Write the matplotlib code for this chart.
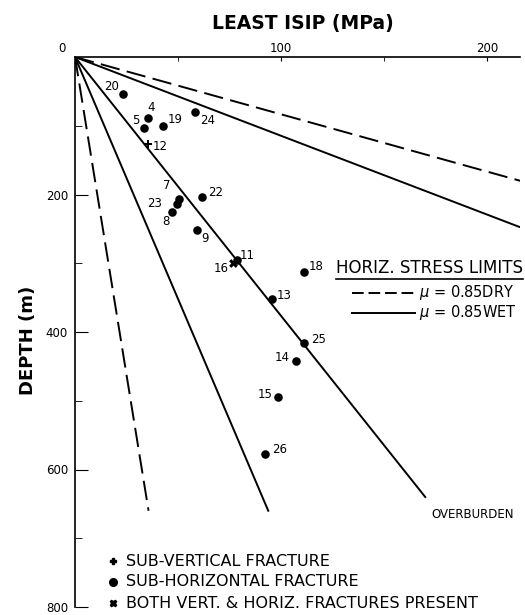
import matplotlib.pyplot as plt
from matplotlib.lines import Line2D
from matplotlib.ticker import FixedLocator

# --- ISIP test results: least ISIP (MPa) vs depth (m) ---
test_ids = ["20", "4", "5", "19", "24", "12", "7", "23", "22", "8",
            "9", "11", "16", "18", "13", "25", "14", "15", "26"]
isip = [23.2, 35.3, 33.5, 42.6, 58.3, 35.3, 50.7, 49.5, 61.5, 46.9,
        59.1, 78.5, 76.6, 111.2, 95.8, 111.1, 107.1, 98.4, 92.2]
depth = [53.8, 88.5, 103.9, 100.6, 80.4, 127.0, 206.9, 213.6, 203.9, 225.1,
         251.1, 295.4, 300.1, 312.1, 351.7, 416.3, 442.0, 494.9, 576.8]
# v = sub-vertical, h = sub-horizontal, b = both present
fracture = ["h", "h", "h", "h", "h", "v", "h", "h", "h", "h",
            "h", "h", "b", "h", "h", "h", "h", "h", "h"]

# --- stress limit lines (end points from the origin) ---
dry_low_isip, dry_low_depth = [0, 35.7], [0, 660]
wet_low_isip, wet_low_depth = [0, 93.8], [0, 660]
dry_high_isip, dry_high_depth = [0, 240], [0, 200]
wet_high_isip, wet_high_depth = [0, 240], [0, 275]
overburden_isip, overburden_depth = [0, 170], [0, 640]

# label offsets in pixels (dx right, dy down)
label_off = {"20": (-11, -7), "4": (3, -10), "5": (-8, -8), "19": (12, -7),
             "24": (13, 8), "12": (12, 2), "7": (-13, -14), "23": (-22, 0),
             "22": (14, -5), "8": (-6, 10), "9": (8, 9), "11": (10, -5),
             "16": (-12, 5), "18": (12, -5), "13": (12, -3), "25": (15, -4),
             "14": (-13, -3), "15": (-13, -3), "26": (15, -4)}

W, H = 525, 615
fig = plt.figure(figsize=(W / 100, H / 100), dpi=100)
ax = fig.add_axes([75 / W, 8 / H, 445 / W, 550 / H])

DASH = (10, 3.8)
LW = 1.4
ax.plot(dry_low_isip, dry_low_depth, color="k", lw=LW, dashes=DASH)
ax.plot(dry_high_isip, dry_high_depth, color="k", lw=LW, dashes=DASH)
ax.plot(wet_low_isip, wet_low_depth, color="k", lw=LW)
ax.plot(wet_high_isip, wet_high_depth, color="k", lw=LW)
ax.plot(overburden_isip, overburden_depth, color="k", lw=LW)

marker_style = {"h": dict(marker="o", s=38),
                "v": dict(marker="P", s=30),
                "b": dict(marker="X", s=40)}
for tid, x, y, k in zip(test_ids, isip, depth, fracture):
    ax.scatter([x], [y], color="k", zorder=3, linewidths=0, **marker_style[k])
    dx, dy = label_off[tid]
    ax.annotate(tid, (x, y), xytext=(dx, -dy), textcoords="offset pixels",
                ha="center", va="center", fontsize=8.5)

ax.set_xlim(0, 216)
ax.set_ylim(800, 0)
for side in ("right", "bottom"):
    ax.spines[side].set_visible(False)
for side in ("left", "top"):
    ax.spines[side].set_linewidth(1.2)

ax.xaxis.tick_top()
ax.xaxis.set_major_locator(FixedLocator([100, 200]))
ax.xaxis.set_minor_locator(FixedLocator([50, 150]))
ax.yaxis.set_major_locator(FixedLocator([200, 400, 600, 800]))
ax.yaxis.set_minor_locator(FixedLocator([100, 300, 500, 700]))
ax.tick_params(axis="x", which="both", direction="in", length=3, pad=1.5,
               labelsize=8.5)
ax.tick_params(axis="y", which="major", direction="in", length=9, pad=5,
               labelsize=8.5)
ax.tick_params(axis="y", which="minor", direction="in", length=5)


def px(x, y):
    return x / W, 1 - y / H


fig.text(*px(62, 48), "0", ha="center", va="center", fontsize=8.5)
fig.text(*px(303, 23), "LEAST ISIP (MPa)", ha="center", va="center",
         fontsize=13.5, fontweight="heavy")
fig.text(*px(28, 340), "DEPTH (m)", ha="center", va="center", rotation=90,
         fontsize=13, fontweight="heavy")
fig.text(*px(431, 515), "OVERBURDEN", ha="left", va="center", fontsize=8.5)

# horizontal stress limits key
fig.text(*px(336, 268), "HORIZ. STRESS LIMITS", ha="left", va="center",
         fontsize=12)
fig.add_artist(Line2D([336 / W, 523 / W], [1 - 279 / H] * 2, color="k", lw=1.2))
fig.add_artist(Line2D([352 / W, 415 / W], [1 - 293 / H] * 2, color="k",
                      lw=LW, dashes=(6, 2.5)))
fig.add_artist(Line2D([352 / W, 415 / W], [1 - 313 / H] * 2, color="k", lw=LW))
fig.text(*px(419, 293), "$\\mu$ = 0.85DRY", ha="left", va="center", fontsize=10.5)
fig.text(*px(419, 313), "$\\mu$ = 0.85WET", ha="left", va="center", fontsize=10.5)

# fracture type key
key_rows = [("P", "SUB-VERTICAL FRACTURE", 561),
            ("o", "SUB-HORIZONTAL FRACTURE", 582),
            ("X", "BOTH VERT. & HORIZ. FRACTURES PRESENT", 603)]
for m, txt, y in key_rows:
    fig.add_artist(Line2D([113 / W], [1 - y / H], marker=m, color="k",
                          markersize=5.5 if m == "o" else 5, lw=0))
    fig.text(*px(126, y), txt, ha="left", va="center", fontsize=11.5)

fig.savefig("out.png", dpi=100)
